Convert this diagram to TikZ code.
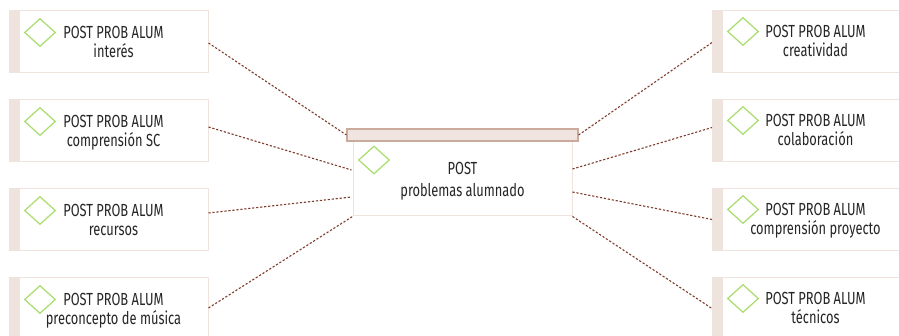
\documentclass[tikz,border=0pt]{standalone}
\usepackage{fontspec}
\setmainfont{Fira Sans}[FakeStretch=0.735]
\usetikzlibrary{calc,shapes.geometric}
\definecolor{stripcol}{HTML}{EFE3DE}
\definecolor{bordcol}{HTML}{F0E2DC}
\definecolor{hdrfill}{HTML}{EFE4DF}
\definecolor{hdrdraw}{HTML}{C9AA9B}
\definecolor{dashcol}{HTML}{7E3D2C}
\definecolor{diacol}{HTML}{A8DC6C}
\definecolor{txtcol}{HTML}{262626}
\tikzset{
  sidebox/.style={draw=bordcol, line width=1pt, fill=white, minimum width=199pt, minimum height=62pt, inner sep=0pt},
  rbox/.style={draw=bordcol, line width=1pt, fill=white, minimum width=220pt, minimum height=62pt, inner sep=0pt},
  dia/.style={diamond, draw=diacol, line width=1.2pt, minimum width=31pt, minimum height=28pt, inner sep=0pt},
  lbl/.style={anchor=base, text=txtcol, font=\fontsize{17.5}{20}\selectfont, inner sep=0pt},
  conn/.style={draw=dashcol, line width=1.1pt, dash pattern=on 2.2pt off 1.8pt},
}
\begin{document}
\begin{tikzpicture}[x=1pt,y=-1pt]
\clip (0,0) rectangle (899,336);
\fill[white] (0,0) rectangle (899,336);
% left boxes
\foreach \i/\t/\s in {1/11/interés,2/100/comprensión SC,3/189/recursos,4/278/preconcepto de música}{
  \node[sidebox] (l\i) at (108.5,\t+31) {};
  \fill[stripcol] (l\i.north west) rectangle ($(l\i.south west)+(11,0)$);
  \node[dia] (ld\i) at (40,\t+21.5) {};
  \node[lbl] (lt\i) at (113.5,\t+28) {POST PROB ALUM};
  \node[lbl] (ls\i) at (113.5,\t+47) {\s};
}
% right boxes
\foreach \i/\t/\s in {1/10/creatividad,2/99/colaboración,3/188/comprensión proyecto,4/277/técnicos}{
  \node[rbox, anchor=north west] (r\i) at (712,\t) {};
  \fill[stripcol] (r\i.north west) rectangle ($(r\i.south west)+(11,0)$);
  \node[dia] (rd\i) at (743,\t+21.5) {};
  \node[lbl] (rt\i) at (815.5,\t+28) {POST PROB ALUM};
  \node[lbl] (rs\i) at (815.5,\t+47) {\s};
}
% center
\node[draw=bordcol, line width=1pt, fill=white, minimum width=219pt, minimum height=75pt, inner sep=0pt] (mb) at (462.5,178.5) {};
\node[draw=hdrdraw, line width=1.2pt, fill=hdrfill, minimum width=231pt, minimum height=12pt, inner sep=0pt] (hdr) at (462.5,135) {};
\node[dia] (cd) at (374,160) {};
\node[lbl] (ct1) at (462.5,175) {POST};
\node[lbl] (ct2) at (462.5,197) {problemas alumnado};
% connectors
\draw[conn] ($(l1.east)+(0,1)$) -- (hdr.west);
\draw[conn] ($(l2.east)+(0,-4)$) -- ($(mb.west)+(-1,-8.5)$);
\draw[conn] ($(l3.east)+(0,-7)$) -- ($(mb.west)+(-1,18.5)$);
\draw[conn] ($(l4.east)+(0,-1)$) -- (mb.south west);
\draw[conn] (hdr.east) -- ($(r1.west)+(0,1)$);
\draw[conn] ($(mb.east)+(0,-9.5)$) -- ($(r2.west)+(0,-3)$);
\draw[conn] ($(mb.east)+(0,13.5)$) -- (r3.west);
\draw[conn] (mb.south east) -- (r4.west);
\end{tikzpicture}
\end{document}
